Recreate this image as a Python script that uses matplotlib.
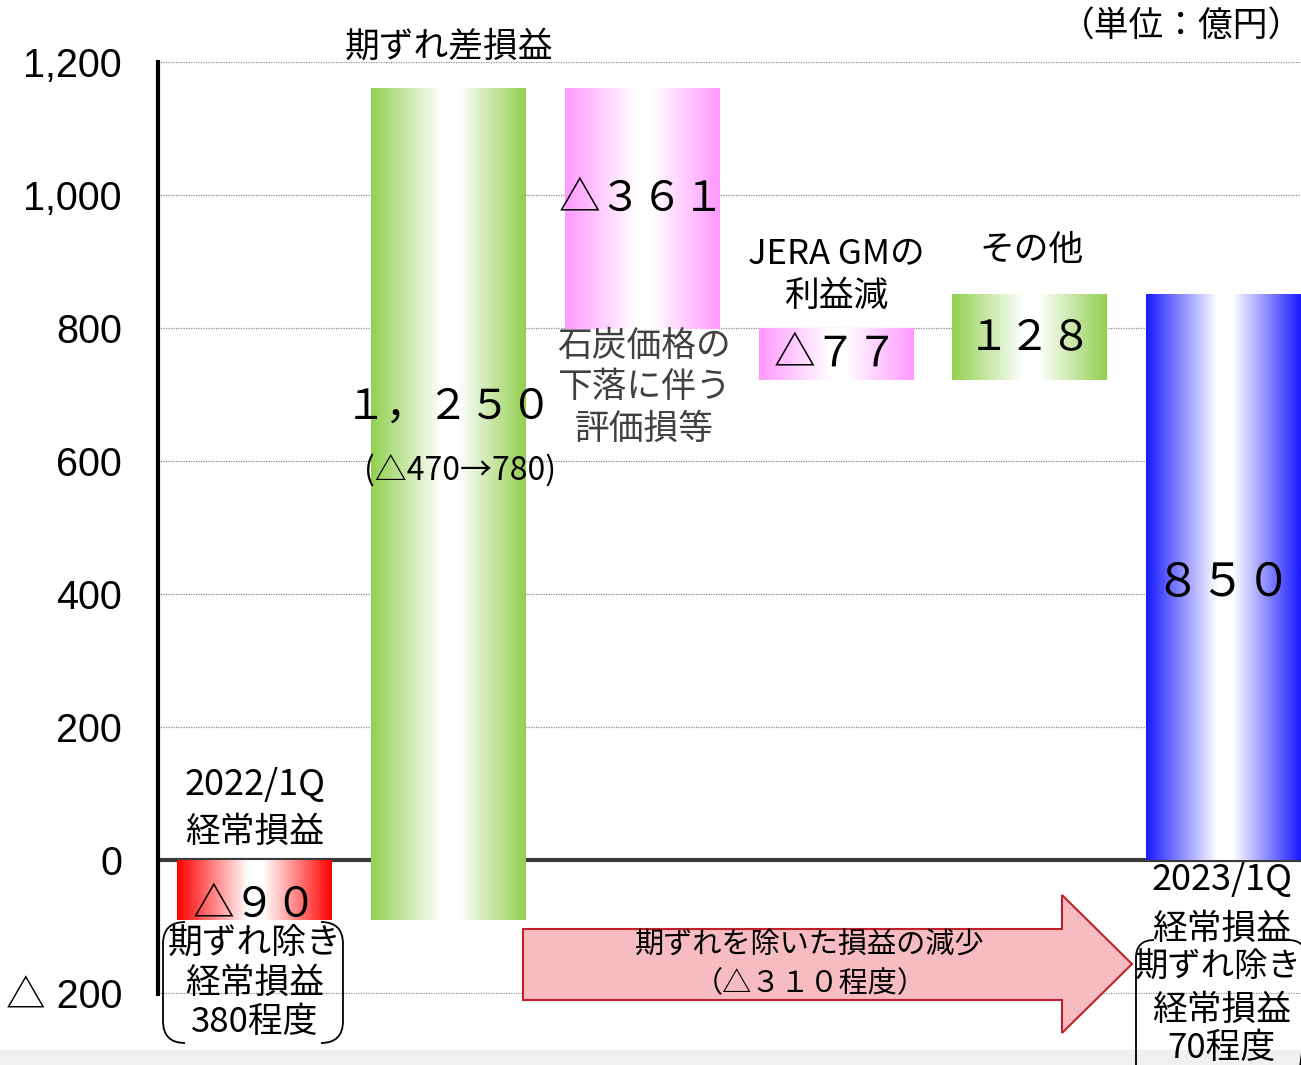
import numpy as np
import matplotlib
matplotlib.use("Agg")
import matplotlib.pyplot as plt
from matplotlib.colors import LinearSegmentedColormap
from matplotlib.patches import Polygon, PathPatch, Rectangle
from matplotlib.path import Path
from matplotlib.transforms import Affine2D

plt.rcParams['font.family'] = ['Noto Sans CJK JP', 'DejaVu Sans']

# ---- data (億円) ----
steps = ['2022/1Q経常損益', '期ずれ差損益', '石炭価格の下落に伴う評価損等',
         'JERA GMの利益減', 'その他', '2023/1Q経常損益']
values = [-90, 1250, -361, -77, 128, 850]
is_total = [True, False, False, False, False, True]
bar_colors = ['#ff0000', '#92d050', '#ff99ff', '#ff99ff', '#92d050', '#1a1aff']
y_ticks = [-200, 0, 200, 400, 600, 800, 1000, 1200]
y_ticklabels = ['△ 200', '0', '200', '400', '600', '800', '1,000', '1,200']

# where the value label sits inside each bar (fraction from bottom)
label_frac = [0.25, 0.617, 0.54, 0.5, 0.5, 0.49]
label_size = [30, 30, 30, 30, 30, 33]

W, H = 1301, 1065
fig = plt.figure(figsize=(W / 100, H / 100), dpi=100)
ax = fig.add_axes([158 / W, 1 - 994 / H, (W - 158) / W, (994 - 62) / H])

# pixel transform for annotation shapes (origin top-left)
px = Affine2D().scale(1 / W, -1 / H).translate(0, 1) + fig.transFigure

# light grey strip at the bottom of the slide
fig.add_artist(Rectangle((0, 1050), W, 20, transform=px, facecolor='#f0f0f0',
                         edgecolor='none', zorder=-5))

# waterfall bottoms/tops
bottoms, tops = [], []
running = 0
for v, tot in zip(values, is_total):
    if tot:
        bottoms.append(min(0, v))
        tops.append(max(0, v))
        running = v
    else:
        new = running + v
        bottoms.append(min(running, new))
        tops.append(max(running, new))
        running = new

grad = np.linspace(0, 1, 256).reshape(1, -1)
full = str.maketrans('0123456789,', '０１２３４５６７８９，')
width = 0.8
for i, v in enumerate(values):
    c = bar_colors[i]
    cmap = LinearSegmentedColormap.from_list(
        'g%d' % i, [(0, c), (0.46, 'white'), (0.56, 'white'), (1, c)])
    ax.imshow(grad, extent=[i - width / 2, i + width / 2, bottoms[i], tops[i]],
              aspect='auto', cmap=cmap, interpolation='bilinear', zorder=2)
    txt = ('△' if v < 0 else '') + f"{abs(v):,}".translate(full)
    ly = bottoms[i] + (tops[i] - bottoms[i]) * label_frac[i]
    ax.text(i, ly, txt, ha='center', va='center', fontsize=label_size[i],
            zorder=5, clip_on=False)

ax.axhline(0, color='#3a3a3a', lw=3, zorder=1)

ax.set_xlim(-0.5, 5.4)
ax.set_ylim(-201.5, 1200)
ax.set_yticks(y_ticks)
ax.set_yticklabels(y_ticklabels, fontsize=28.5,
                   fontfamily=['Liberation Sans', 'Noto Sans CJK JP'])
ax.set_xticks([])
ax.tick_params(axis='y', length=0, pad=26)
ax.yaxis.grid(True, linestyle=(0, (1, 1)), linewidth=0.9, color='#8c8c8c', zorder=0)
ax.set_axisbelow(True)
for s in ['top', 'right', 'bottom']:
    ax.spines[s].set_visible(False)
ax.spines['left'].set_linewidth(3)
ax.spines['left'].set_color('black')

# category labels
kw = dict(ha='center', va='center', fontsize=25, clip_on=False, zorder=6)
ax.text(0, 113, '2022/1Q', ha='center', va='center', fontsize=26, clip_on=False)
ax.text(0, 41, '経常損益', **kw)
ax.text(1, 1222, '期ずれ差損益', **kw)
ax.text(1.06, 586, '(△470→780)', ha='center', va='center', fontsize=23,
        clip_on=False, zorder=6)
for yy, line in zip([773, 710, 647], ['石炭価格の', '下落に伴う', '評価損等']):
    ax.text(2.01, yy, line, color='#404040', **kw)
ax.text(3, 910, 'JERA GMの', **kw)
ax.text(3, 848, '利益減', **kw)
ax.text(4.01, 917, 'その他', **kw)
ax.text(4.99, -30, '2023/1Q', ha='center', va='center', fontsize=26, clip_on=False)
for yy, line in zip([-105, -226, -283], ['経常損益', '経常損益', '70程度']):
    ax.text(4.99, yy, line, **kw)
ax.text(4.975, -162, '期ずれ除き', ha='center', va='center', fontsize=24,
        clip_on=False, zorder=6)
for yy, line in zip([-125, -185, -245], ['期ずれ除き', '経常損益', '380程度']):
    ax.text(0, yy, line, **kw)

fig.text(1182 / W, 1 - 27 / H, '（単位：億円）', ha='center', va='center', fontsize=25)

# block arrow
arrow = Polygon([(523, 929), (1062, 929), (1062, 895), (1132, 964),
                 (1062, 1033), (1062, 1000), (523, 1000)], closed=True,
                transform=px, facecolor='#f7bcc1', edgecolor='#c0202a', lw=1.5,
                zorder=3)
fig.add_artist(arrow)
fig.text(810 / W, 1 - 946 / H, '期ずれを除いた損益の減少', ha='center', va='center',
         fontsize=21, zorder=4)
fig.text(810 / W, 1 - 984 / H, '（△３１０程度）', ha='center', va='center',
         fontsize=21, zorder=4)


def bracket_pair(x0, x1, y0, y1, r):
    verts = [(x0 + r, y0), (x0, y0), (x0, y0 + r), (x0, y1 - r), (x0, y1), (x0 + r, y1),
             (x1 - r, y0), (x1, y0), (x1, y0 + r), (x1, y1 - r), (x1, y1), (x1 - r, y1)]
    codes = [Path.MOVETO, Path.CURVE3, Path.CURVE3, Path.LINETO, Path.CURVE3, Path.CURVE3] * 2
    return PathPatch(Path(verts, codes), transform=px, facecolor='none',
                     edgecolor='black', lw=1.3, zorder=6)


fig.add_artist(bracket_pair(163, 343, 922, 1043, 22))
fig.add_artist(bracket_pair(1136, 1306, 940, 1090, 18))

fig.savefig('out.png', dpi=100)
